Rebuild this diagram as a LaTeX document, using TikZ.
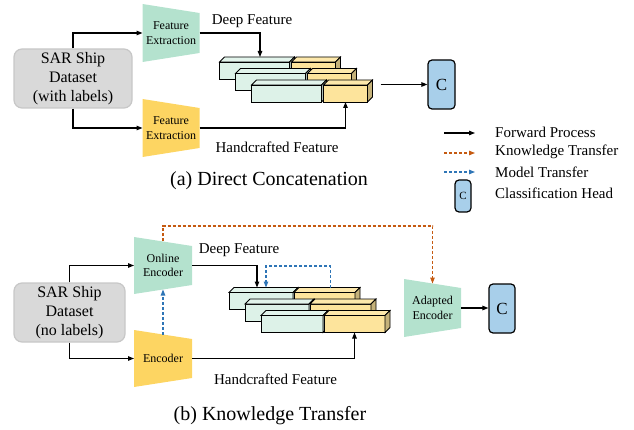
\documentclass[tikz,border=0pt]{standalone}
\usepackage{fontspec}
\setmainfont{Liberation Serif}
\usetikzlibrary{arrows.meta,calc}
\definecolor{trapgreen}{HTML}{B4E2CE}
\definecolor{trapyellow}{HTML}{FDD562}
\definecolor{blkgreen}{HTML}{DDF2E8}
\definecolor{blkyellow}{HTML}{FDE49C}
\definecolor{headblue}{HTML}{A8CFEA}
\definecolor{dsgray}{HTML}{D9D9D9}
\definecolor{ktorange}{HTML}{C55A11}
\definecolor{mtblue}{HTML}{2E75B6}
\tikzset{
  fwd/.style={line width=1.1pt, -{Triangle[length=6pt,width=4.5pt]}},
  ktr/.style={fwd, color=ktorange, dash pattern=on 3pt off 2pt},
  mtr/.style={fwd, color=mtblue, dash pattern=on 3pt off 2pt},
  dataset/.style={draw=black!22, line width=1.2pt, fill=dsgray, rounded corners=8pt,
    align=center, font=\fontsize{16}{19}\selectfont, inner sep=0pt},
  head/.style={draw, line width=1.2pt, fill=headblue, rounded corners=4pt, inner sep=0pt},
  trap/.style={minimum width=57pt, minimum height=58pt, inner sep=0pt, outer sep=0pt,
    align=center, font=\fontsize{12}{14.5}\selectfont,
    path picture={\fill[#1] (path picture bounding box.north west)
      -- ([yshift=-9pt]path picture bounding box.north east)
      -- ([yshift=9pt]path picture bounding box.south east)
      -- (path picture bounding box.south west) -- cycle;}},
  blk/.style={draw, line width=0.8pt, minimum height=17pt, inner sep=0pt, outer sep=0pt},
  lbl/.style={font=\fontsize{15}{18}\selectfont, inner sep=0pt},
}
% name, x, y (top of front face), width, colour
\def\cuboid#1#2#3#4#5{%
  \node[blk, fill=#5, minimum width=#4pt] (#1) at (#2+#4/2, #3+8.5) {};
  \draw[line width=0.8pt, fill=#5!85!white] (#1.north west) -- ++(5pt,5pt)
    -- ([shift={(5pt,5pt)}]#1.north east) -- (#1.north east) -- cycle;
  \draw[line width=0.8pt, fill=#5!78!black] (#1.north east) -- ++(5pt,5pt)
    -- ([shift={(5pt,5pt)}]#1.south east) -- (#1.south east) -- cycle;
}

\begin{document}
\begin{tikzpicture}[x=1pt, y=-1pt]
			\useasboundingbox (0,0) rectangle (634,430);
			%%%%% (a) DIRECT CONCATENATION %%%%%
			
			\node[dataset, minimum width=118pt, minimum height=59pt] (ds1) at (73, 78.5) {SAR Ship\\Dataset\\(with labels)};
			\node[trap=trapgreen] (fe1) at (171, 33) {Feature\\Extraction};
			\node[trap=trapyellow] (fe2) at (171, 128) {Feature\\Extraction};
			
			\cuboid{ga1}{219.5}{62}{70}{blkgreen}
			\cuboid{ya1}{291.5}{62}{44}{blkyellow}
			\cuboid{ga2}{235.5}{73.5}{70}{blkgreen}
			\cuboid{ya2}{307.5}{73.5}{44}{blkyellow}
			\cuboid{ga3}{251.5}{85}{70}{blkgreen}
			\cuboid{ya3}{323.5}{85}{44}{blkyellow}
			
			\node[head, minimum width=27pt, minimum height=49pt, font=\fontsize{17}{17}\selectfont] (hd1) at (441.5, 84.5) {C};
			
			\draw[fwd] (ds1.north) |- (fe1.west);
			\draw[fwd] (ds1.south) |- (fe2.west);
			\draw[fwd] (fe1.east) -| ([shift={(5.5pt,5pt)}]ga1.north);
			\draw[fwd] (fe2.east) -| (ya3.south);
			\draw[fwd] ([xshift=13pt]ya3.east |- hd1.west) -- (hd1.west);
			
			\node[lbl] (df1) at (252, 21) {Deep Feature};
			\node[lbl] (hf1) at (277, 147) {Handcrafted Feature};
			\node[font=\fontsize{20}{24}\selectfont, inner sep=0pt] (capa) at (269, 181) {(a) Direct Concatenation};
			
			%%%%% LEGEND %%%%%
			
			\coordinate (lg1) at (444, 133);
			\coordinate (lg2) at (444, 153);
			\coordinate (lg3) at (444, 172);
			\draw[fwd] (lg1) -- ++(31pt,0pt);
			\draw[ktr] (lg2) -- ++(31pt,0pt);
			\draw[mtr] (lg3) -- ++(31pt,0pt);
			\node[head, minimum width=16pt, minimum height=32pt, font=\fontsize{11}{11}\selectfont] (hdl) at (463, 196) {C};
			\node[lbl, anchor=west] (lt1) at (495, 132) {Forward Process};
			\node[lbl, anchor=west] (lt2) at (495, 152) {Knowledge Transfer};
			\node[lbl, anchor=west] (lt3) at (495, 172) {Model Transfer};
			\node[lbl, anchor=west] (lt4) at (495, 193) {Classification Head};
			
			%%%%% (b) KNOWLEDGE TRANSFER %%%%%
			
			\node[dataset, minimum width=111pt, minimum height=59pt] (ds2) at (69.5, 312.5) {SAR Ship\\Dataset\\(no labels)};
			\node[trap=trapgreen, minimum width=58pt, minimum height=57pt] (oe) at (163, 265.5) {Online\\Encoder};
			\node[trap=trapyellow, minimum width=58pt, minimum height=57pt] (en) at (163, 358.5) {Encoder};
			\node[trap=trapgreen] (ae) at (432.5, 308) {Adapted\\Encoder};
			
			\cuboid{gb1}{229}{292.5}{64}{blkgreen}
			\cuboid{yb1}{294}{292.5}{61}{blkyellow}
			\cuboid{gb2}{245}{304}{64}{blkgreen}
			\cuboid{yb2}{310}{304}{61}{blkyellow}
			\cuboid{gb3}{261}{315.5}{62}{blkgreen}
			\cuboid{yb3}{324}{315.5}{61}{blkyellow}
			
			\node[head, minimum width=26pt, minimum height=49pt, font=\fontsize{17}{17}\selectfont] (hd2) at (502, 308.5) {C};
			
			\draw[fwd] (ds2.north) |- (oe.west);
			\draw[fwd] (ds2.south) |- (en.west);
			\draw[fwd] (oe.east) -| ([shift={(-4pt,5pt)}]gb1.north);
			\draw[fwd] (en.east) -| (yb3.south);
			\draw[fwd] (ae.east) -- (ae.east -| hd2.west);
			
			\draw[mtr] ([yshift=-4.5pt]en.north) -- ([yshift=4.5pt]oe.south);
			\coordinate (mt) at (0, 266);
			\coordinate (mt1) at ([shift={(6pt,5pt)}]yb1.north);
			\coordinate (mt2) at ([shift={(5pt,5pt)}]gb1.north);
			\draw[mtr] (mt1) -- (mt1 |- mt) -- (mt2 |- mt) -- (mt2);
			
			\coordinate (kt) at (0, 226);
			\draw[ktr] ([yshift=-4.5pt]oe.north) -- (oe.north |- kt) -- (ae.north |- kt) -- ([yshift=-4.5pt]ae.north);
			
			\node[lbl] (df2) at (239, 250) {Deep Feature};
			\node[lbl] (hf2) at (275.5, 379) {Handcrafted Feature};
			\node[font=\fontsize{20}{24}\selectfont, inner sep=0pt] (capb) at (270, 416) {(b) Knowledge Transfer};
			
			%%%%% END %%%%%
\end{tikzpicture}
\end{document}
